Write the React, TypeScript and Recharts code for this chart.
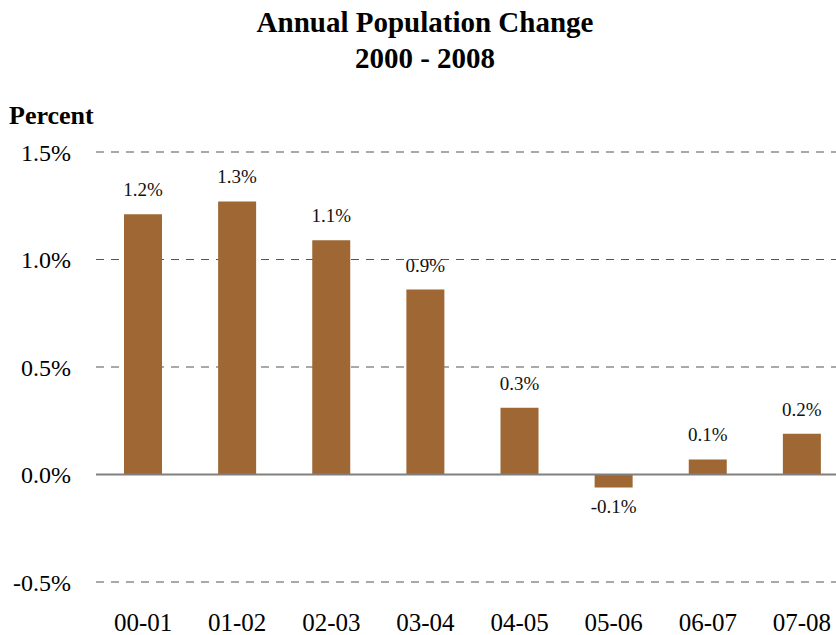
import React from 'react'
import { BarChart, Bar, XAxis, YAxis, CartesianGrid, ReferenceLine, LabelList } from 'recharts'

const PERIODS = ['00-01', '01-02', '02-03', '03-04', '04-05', '05-06', '06-07', '07-08']
const CHANGE = [1.21, 1.27, 1.09, 0.86, 0.31, -0.06, 0.07, 0.19]
const Y_TICKS = [-0.5, 0, 0.5, 1.0, 1.5]

const data = PERIODS.map((p, i) => ({ period: p, change: CHANGE[i] }))

const FONT = '"Liberation Serif", "Times New Roman", serif'
const BAR_COLOR = '#9e6733'

/* bar value labels: above positive bars, below negative ones */
function ValueLabel(props: any) {
  const { x, y, width, height, value } = props
  const top = Math.min(y, y + height)
  const bottom = Math.max(y, y + height)
  const ty = value >= 0 ? top - 18 : bottom + 26
  return (
    <text x={x + width / 2} y={ty} textAnchor="middle" fontSize={19} fontFamily={FONT} fill="#111">
      {Number(value).toFixed(1)}%
    </text>
  )
}

export default function App() {
  return (
    <div style={{ position: 'absolute', left: 0, top: 0, width: 836, height: 635, overflow: 'hidden', background: '#fff', fontFamily: FONT }}>
      <div style={{ position: 'absolute', left: 0, top: 4, width: 850, textAlign: 'center', fontSize: 29, lineHeight: '36px', fontWeight: 'bold', color: '#000' }}>
        Annual Population Change<br />2000 - 2008
      </div>
      <div style={{ position: 'absolute', left: 9, top: 103, fontSize: 26, lineHeight: '26px', fontWeight: 'bold', color: '#000' }}>
        Percent
      </div>
      <BarChart width={849} height={635} data={data} margin={{ top: 152, right: 0, left: 0, bottom: 0 }} barSize={38}>
        <CartesianGrid horizontal vertical={false} stroke="#555" strokeDasharray="8 7" strokeWidth={1.2} />
        <XAxis dataKey="period" axisLine={false} tickLine={false} tickSize={0} tickMargin={31} height={53}
          tick={{ fontSize: 25, fontFamily: FONT, fill: '#000' }} interval={0} />
        <YAxis domain={[-0.5, 1.5]} ticks={Y_TICKS} axisLine={false} tickLine={false} tickSize={0} tickMargin={25} width={96}
          tick={{ fontSize: 24, fontFamily: FONT, fill: '#000' }} tickFormatter={(v: number) => `${v.toFixed(1)}%`} />
        <ReferenceLine y={0} stroke="#808080" strokeWidth={2} />
        <Bar dataKey="change" fill={BAR_COLOR} isAnimationActive={false}>
          <LabelList dataKey="change" content={ValueLabel} />
        </Bar>
      </BarChart>
    </div>
  )
}
